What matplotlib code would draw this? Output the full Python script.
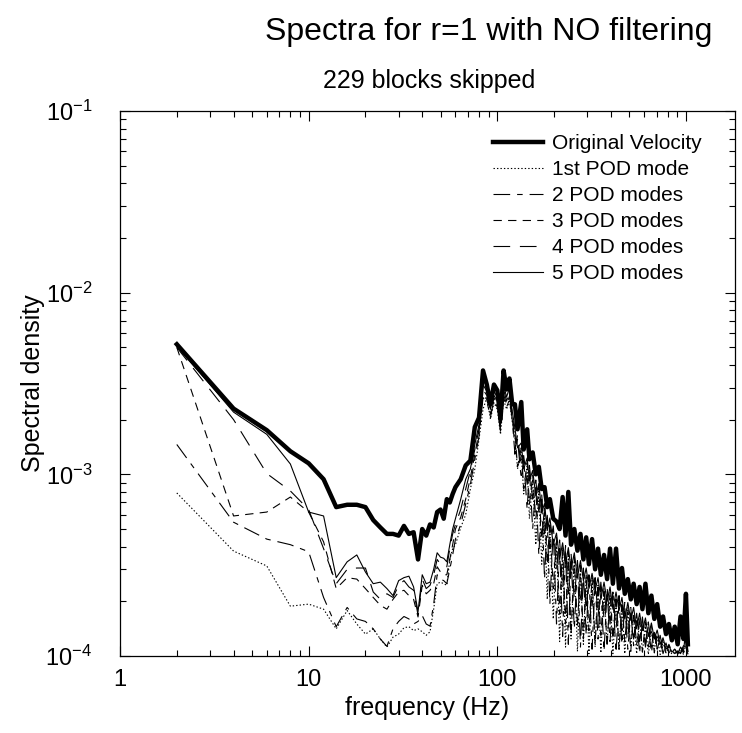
import matplotlib
matplotlib.use('Agg')
import matplotlib.pyplot as plt
import numpy as np
from matplotlib.ticker import NullFormatter, LogLocator

plt.rcParams['font.family'] = ['Liberation Sans', 'DejaVu Sans']
plt.rcParams['lines.scale_dashes'] = False

# frequency bins (Hz)
freq = [2, 4, 6, 8, 10, 12, 14, 16, 18, 20, 22, 24, 26, 28, 30, 32, 34, 36, 38, 40,
        42, 44, 46, 48, 50, 52, 54, 56, 58, 60,
        64, 68, 72, 76, 80, 84, 88, 92, 96, 100, 104, 108, 112, 116, 120,
        124, 128, 134, 138, 144, 148, 154, 160, 166, 172, 178, 184, 190, 198, 206,
        214, 222, 230, 238, 246, 256, 266, 276, 286, 296, 306, 318, 330, 342, 354,
        368, 382, 396, 410, 426, 442, 458, 474, 492, 510, 528, 548, 568, 588, 610,
        632, 656, 680, 704, 730, 756, 784, 812, 842, 872, 904, 936, 970, 1000, 1024]

# spectral density, in units of 1e-4
orig = [52, 23, 17.5, 13.4, 11.5, 9.4, 6.6, 6.8, 6.8, 6.6, 5.6, 5.1, 4.7, 4.7, 4.6,
        5.2, 4.7, 4.8, 3.4, 5.0, 4.6, 5.3, 5.1, 6.2, 6.4, 5.7, 7.3, 7.0, 7.8, 8.5,
        9.4, 11.2, 11.9, 18.2, 20.5, 37.3, 31.2, 24.3, 31.2, 29.0, 20.1, 37.3, 29.3, 33.7, 24.3,
        24.3, 17.7, 25.0, 13.7, 17.7, 12.1, 13.2, 10.0, 11.0, 8.3, 8.5, 6.6, 7.3, 5.7, 5.5,
        5.0, 7.5, 4.6, 8.0, 4.1, 5.0, 3.8, 4.7, 3.4, 4.5, 3.2, 4.4, 3.0, 3.9, 2.8,
        3.6, 2.65, 3.9, 2.5, 3.9, 2.35, 3.05, 2.2, 2.65, 2.05, 2.5, 1.93, 2.4, 1.81, 2.5,
        1.72, 2.15, 1.6, 1.93, 1.45, 1.65, 1.32, 1.5, 1.22, 1.45, 1.16, 1.65, 1.24, 2.2, 1.16]

pod1 = [7.9, 3.78, 3.13, 1.88, 1.93, 1.81, 1.41, 1.78, 1.5, 1.32, 1.41, 1.24, 1.12, 1.27, 1.32,
        1.43, 1.45, 1.38, 1.41, 1.36, 1.3, 1.36, 1.81, 2.5, 2.55, 2.5, 2.45, 3.4, 3.9, 4.1,
        5.1, 6.0, 8.3, 10.7, 15.6, 22.8, 26.4, 20.1, 24.8, 22.8, 16.6, 25.8, 22.8, 25.3, 19.6,
        16.2, 10.7, 13.3, 7.8, 11.1, 5.7, 9.4, 4.1, 8.1, 3.2, 6.2, 2.05, 5.1, 1.6, 4.3,
        1.2, 3.8, 1.12, 3.55, 1.24, 3.35, 1.06, 3.0, 1.16, 2.75, 1.03, 2.6, 1.12, 2.45, 1.04,
        2.3, 1.16, 2.15, 1.03, 2.0, 1.09, 1.9, 1.03, 1.78, 1.12, 1.67, 1.03, 1.57, 1.06, 1.46,
        1.02, 1.38, 1.09, 1.28, 1.02, 1.2, 1.04, 1.12, 1.02, 1.06, 1.02, 1.09, 1.02, 1.16, 1.02]

pod2 = [14.6, 5.45, 4.4, 4.1, 3.75, 2.1, 1.45, 1.85, 1.6, 1.55, 1.41, 1.24, 1.13, 1.41, 1.55,
        1.65, 1.6, 1.5, 1.55, 1.67, 1.5, 1.46, 1.93, 2.8, 2.65, 2.6, 2.5, 3.0, 3.6, 4.4,
        5.3, 6.85, 8.8, 12.1, 16.2, 26.4, 25.3, 20.6, 25.8, 23.4, 17.3, 26.4, 23.4, 25.8, 20.1,
        12.9, 15.6, 9.4, 12.1, 6.4, 10.7, 5.0, 8.8, 3.6, 7.3, 2.65, 5.7, 1.93, 5.0, 1.5,
        4.1, 1.28, 3.9, 1.16, 3.5, 1.41, 3.2, 1.12, 2.9, 1.30, 2.75, 1.09, 2.6, 1.24, 2.4,
        1.06, 2.3, 1.2, 2.15, 1.04, 2.0, 1.16, 1.88, 1.09, 1.75, 1.14, 1.64, 1.03, 1.57, 1.12,
        1.46, 1.04, 1.35, 1.09, 1.24, 1.03, 1.16, 1.06, 1.09, 1.03, 1.06, 1.03, 1.12, 1.09, 1.03]

pod3 = [50, 5.9, 6.2, 7.5, 6.2, 4.25, 2.35, 2.7, 2.65, 2.35, 2.1, 1.9, 1.81, 2.05, 2.25,
        2.3, 2.15, 2.05, 1.64, 2.45, 2.2, 2.3, 2.5, 3.1, 2.9, 2.8, 2.8, 3.4, 4.1, 5.0,
        5.8, 7.3, 9.6, 12.9, 17.3, 27.5, 25.8, 21.4, 26.4, 24.3, 17.7, 27.5, 24.3, 26.9, 20.6,
        17.0, 11.0, 14.0, 8.3, 11.6, 6.85, 9.9, 5.7, 8.5, 4.4, 6.6, 3.2, 5.5, 2.35, 4.55,
        1.70, 4.0, 1.5, 3.75, 1.32, 3.5, 1.45, 3.15, 1.24, 2.8, 1.38, 2.7, 1.16, 2.5, 1.30,
        2.4, 1.12, 2.25, 1.24, 2.15, 1.09, 2.0, 1.2, 1.88, 1.06, 1.75, 1.16, 1.64, 1.05, 1.54,
        1.12, 1.45, 1.04, 1.34, 1.09, 1.24, 1.03, 1.16, 1.06, 1.09, 1.03, 1.12, 1.04, 1.24, 1.05]

pod4 = [50, 20, 10.1, 8.1, 6.4, 3.9, 2.5, 3.0, 3.05, 3.05, 2.25, 2.05, 2.2, 2.1, 2.45,
        2.6, 2.4, 2.3, 1.68, 2.65, 2.35, 2.45, 2.8, 3.4, 3.2, 3.1, 3.1, 3.9, 4.7, 5.3,
        6.4, 8.3, 10.5, 13.7, 17.7, 29.3, 27.2, 22.3, 27.2, 25.3, 18.2, 29.3, 25.3, 28.6, 21.4,
        13.7, 16.4, 11.0, 12.7, 8.8, 11.2, 7.3, 9.3, 6.2, 7.7, 4.7, 5.95, 3.9, 5.2, 3.0,
        4.35, 2.35, 4.05, 2.2, 3.7, 2.05, 3.35, 1.93, 3.05, 1.78, 2.8, 1.88, 2.7, 1.64, 2.55,
        1.6, 2.4, 1.5, 2.25, 1.41, 2.15, 1.38, 1.97, 1.28, 1.85, 1.24, 1.72, 1.2, 1.64, 1.16,
        1.54, 1.12, 1.42, 1.09, 1.30, 1.06, 1.18, 1.04, 1.09, 1.03, 1.06, 1.04, 1.14, 1.12, 1.06]

pod5 = [51, 22, 16.6, 11.4, 6.2, 5.9, 2.7, 3.3, 3.6, 2.9, 2.5, 2.55, 2.35, 2.15, 2.6,
        2.7, 2.75, 2.4, 1.75, 2.8, 2.5, 2.55, 3.0, 3.7, 3.5, 3.45, 3.3, 4.1, 5.0, 5.7,
        7.3, 9.4, 10.7, 14.6, 18.8, 31.2, 28.6, 22.8, 28.6, 26.6, 18.8, 31.2, 26.6, 30.0, 22.3,
        18.0, 14.0, 14.9, 10.7, 12.3, 9.2, 10.5, 7.6, 8.9, 6.2, 6.9, 4.9, 5.75, 4.1, 4.75,
        3.4, 4.2, 3.2, 3.95, 3.0, 3.7, 2.7, 3.35, 2.6, 3.05, 2.35, 2.85, 2.3, 2.7, 2.05,
        2.55, 2.0, 2.4, 1.81, 2.25, 1.78, 2.1, 1.6, 1.97, 1.57, 1.85, 1.41, 1.72, 1.38, 1.62,
        1.28, 1.52, 1.24, 1.39, 1.16, 1.26, 1.09, 1.14, 1.05, 1.09, 1.03, 1.12, 1.06, 1.41, 1.06]

labels = ['Original Velocity', '1st POD mode', '2 POD modes', '3 POD modes',
          '4 POD modes', '5 POD modes']

fig = plt.figure(figsize=(7.42, 7.33), dpi=100)
ax = fig.add_axes([120 / 742, 1 - 656 / 733, 615 / 742, 545 / 733])

f = np.array(freq)
scale = 1e-4
ax.plot(f, np.array(orig) * scale, color='k', linewidth=3.2, label=labels[0])
ax.plot(f, np.array(pod1) * scale, color='k', linewidth=0.8, linestyle=(0, (1, 1.5)), label=labels[1])
ax.plot(f, np.array(pod2) * scale, color='k', linewidth=0.8, linestyle=(0, (12, 5, 4, 5)), label=labels[2])
ax.plot(f, np.array(pod3) * scale, color='k', linewidth=0.8, linestyle=(0, (6, 4.5)), label=labels[3])
ax.plot(f, np.array(pod4) * scale, color='k', linewidth=0.8, linestyle=(0, (12, 7)), label=labels[4])
ax.plot(f, np.array(pod5) * scale, color='k', linewidth=0.8, label=labels[5])

ax.set_xscale('log')
ax.set_yscale('log')
ax.set_xlim(1, 1820)
ax.set_ylim(1e-4, 1e-1)

ax.set_xticks([1, 10, 100, 1000], ['1', '10', '100', '1000'])
ax.xaxis.set_minor_locator(LogLocator(base=10, subs=np.arange(2, 10)))
ax.xaxis.set_minor_formatter(NullFormatter())
ax.yaxis.set_minor_locator(LogLocator(base=10, subs=np.arange(2, 10)))
ax.yaxis.set_minor_formatter(NullFormatter())
ax.tick_params(which='both', direction='in', top=True, right=True, labelsize=17, width=0.8)
ax.tick_params(which='major', length=7)
ax.tick_params(which='minor', length=4)
ax.tick_params(axis='x', which='major', pad=9)
ax.tick_params(axis='y', which='major', pad=20)
for s in ax.spines.values():
    s.set_linewidth(0.9)

ax.set_xlabel('frequency (Hz)', fontsize=18, labelpad=4)
ax.set_ylabel('Spectral density', fontsize=18)
ax.yaxis.set_label_coords(-0.122, 0.5)
fig.text(429 / 742, 1 - 81 / 733, '229 blocks skipped', fontsize=18, ha='center', va='center')
fig.text(489 / 742, 1 - 32 / 733, 'Spectra for r=1 with NO filtering',
         fontsize=23, ha='center', va='center')

ax.legend(loc='upper left', bbox_to_anchor=(493 / 742, 1 - 134 / 733),
          bbox_transform=fig.transFigure, frameon=False, fontsize=15,
          handlelength=2.4, handletextpad=0.45, labelspacing=0.34, borderpad=0,
          borderaxespad=0)

fig.savefig('out.png', dpi=100)
